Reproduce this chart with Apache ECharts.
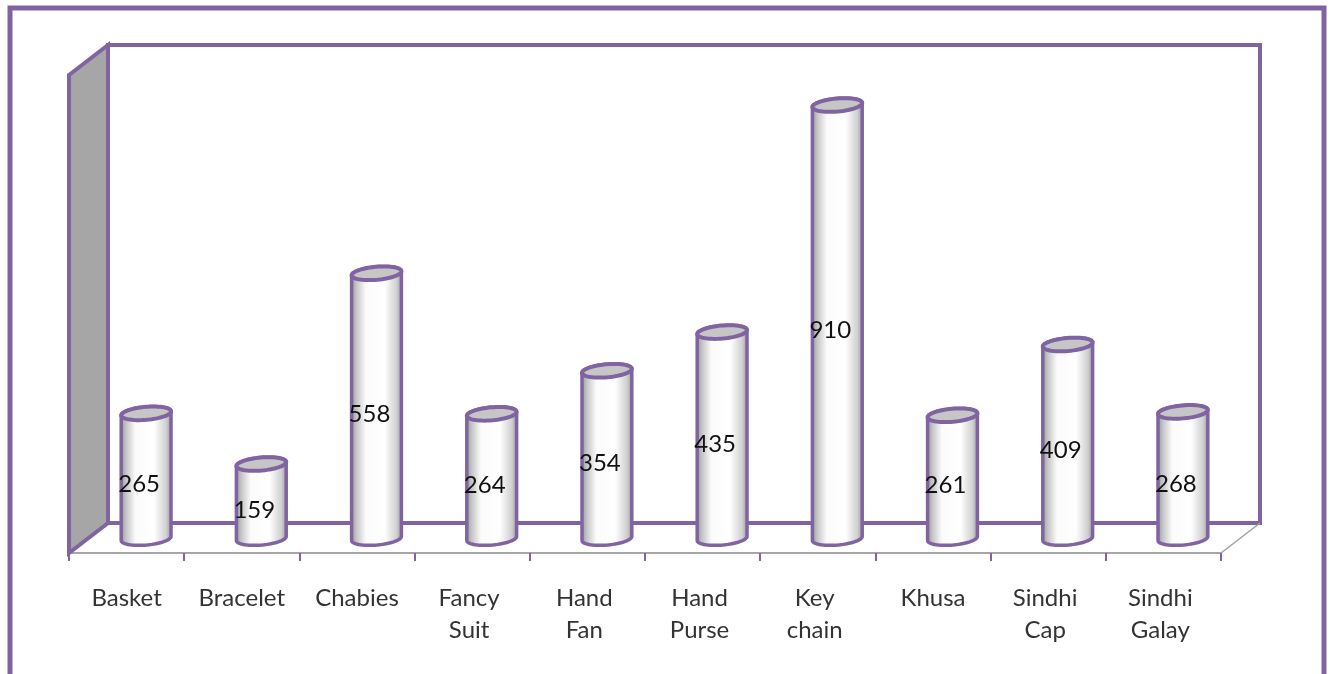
<!DOCTYPE html>
<html>
<head>
<meta charset="utf-8">
<style>
  html, body { margin: 0; padding: 0; background: #fff; }
  #chart { width: 1330px; height: 674px; }
</style>
<script src="https://cdn.jsdelivr.net/npm/echarts@6/dist/echarts.min.js"></script>
</head>
<body>
<div id="chart"></div>
<script>
var categories = ['Basket', 'Bracelet', 'Chabies', 'Fancy Suit', 'Hand Fan', 'Hand Purse', 'Key chain', 'Khusa', 'Sindhi Cap', 'Sindhi Galay'];
var values = [265, 159, 558, 264, 354, 435, 910, 261, 409, 268];

var PURPLE = '#8064a2';
var FONT = 'Lato, "Open Sans", sans-serif';
// fake 3d: how far the back wall sits from the front plane
var DEPTH_X = 39, DEPTH_Y = 30;
var RX = 25, RY = 6.5, TILT = -5 * Math.PI / 180;

// points along a tilted ellipse, angles in degrees
function arc(cx, cy, from, to) {
  var pts = [];
  for (var a = from; a <= to; a += 6) {
    var t = a * Math.PI / 180;
    var px = RX * Math.cos(t), py = RY * Math.sin(t);
    pts.push([
      cx + px * Math.cos(TILT) - py * Math.sin(TILT),
      cy + px * Math.sin(TILT) + py * Math.cos(TILT)
    ]);
  }
  return pts;
}

function renderWalls(params) {
  var c = params.coordSys;
  var l = c.x, r = c.x + c.width, t = c.y, b = c.y + c.height;
  return {
    type: 'group',
    children: [{
      type: 'polygon',
      shape: { points: [[l + DEPTH_X, t - DEPTH_Y], [r + DEPTH_X, t - DEPTH_Y], [r + DEPTH_X, b - DEPTH_Y], [l + DEPTH_X, b - DEPTH_Y]] },
      style: { fill: '#fff', stroke: PURPLE, lineWidth: 4, lineJoin: 'miter' }
    }, {
      type: 'polygon',
      shape: { points: [[l, t], [l + DEPTH_X, t - DEPTH_Y], [l + DEPTH_X, b - DEPTH_Y], [l, b]] },
      style: { fill: '#a6a6a6', stroke: PURPLE, lineWidth: 4, lineJoin: 'miter' }
    }, {
      type: 'line',
      shape: { x1: r, y1: b, x2: r + DEPTH_X, y2: b - DEPTH_Y },
      style: { stroke: '#a0a0a0', lineWidth: 1.5 }
    }]
  };
}

function renderCylinder(params, api) {
  var front = api.coord([api.value(0), api.value(1)]);
  var base = api.coord([api.value(0), 0]);
  var mid = api.coord([api.value(0), api.value(1) / 2]);
  var cx = front[0] + DEPTH_X / 2;
  var top = front[1] - 13;
  var bottom = base[1] - 14.5;
  var side = arc(cx, top, 180, 360).concat(arc(cx, bottom, 0, 180));
  return {
    type: 'group',
    children: [{
      type: 'polygon',
      shape: { points: side },
      style: {
        fill: {
          type: 'linear', x: 0, y: 0, x2: 1, y2: 0,
          colorStops: [
            { offset: 0, color: '#8c8c8c' },
            { offset: 0.12, color: '#c4c4c4' },
            { offset: 0.3, color: '#fbfbfb' },
            { offset: 0.65, color: '#ffffff' },
            { offset: 0.88, color: '#cfcfcf' },
            { offset: 1, color: '#8c8c8c' }
          ]
        },
        stroke: PURPLE, lineWidth: 3.5, lineJoin: 'round'
      }
    }, {
      type: 'polygon',
      shape: { points: arc(cx, top, 0, 360) },
      style: { fill: '#c6c6c6', stroke: PURPLE, lineWidth: 4, lineJoin: 'round' }
    }, {
      type: 'text',
      x: cx - 7,
      y: mid[1] - 5,
      style: {
        text: String(api.value(1)),
        fill: '#111',
        font: '24px ' + FONT,
        align: 'center',
        verticalAlign: 'middle'
      }
    }]
  };
}

var chart = echarts.init(document.getElementById('chart'));
chart.setOption({
  animation: false,
  backgroundColor: '#fff',
  grid: { left: 69, top: 75, width: 1152, height: 478 },
  xAxis: {
    type: 'category',
    data: categories,
    axisLine: { show: true, lineStyle: { color: '#a6a6a6', width: 2 } },
    axisTick: { show: true, length: 8, lineStyle: { color: PURPLE, width: 2 } },
    axisLabel: {
      interval: 0,
      margin: 29,
      color: '#333',
      fontFamily: 'Lato, "Open Sans", sans-serif',
      fontSize: 24,
      lineHeight: 32,
      formatter: function (name) {
        // the wrapped names sit a little left of their slot, a trailing space does that
        return name.indexOf(' ') > 0 ? name.replace(' ', ' \n') + ' ' : name;
      }
    }
  },
  yAxis: { type: 'value', min: 0, max: 1000, show: false },
  graphic: [{
    type: 'polyline',
    shape: { points: [[10, 674], [10, 8], [1324, 8], [1324, 674]] },
    style: { fill: null, stroke: PURPLE, lineWidth: 5 }
  }],
  series: [{
    type: 'custom',
    z: 1,
    silent: true,
    data: [[0, 0]],
    renderItem: renderWalls
  }, {
    type: 'custom',
    z: 2,
    silent: true,
    data: categories.map(function (c, i) { return [i, values[i]]; }),
    renderItem: renderCylinder
  }]
});
</script>
</body>
</html>
